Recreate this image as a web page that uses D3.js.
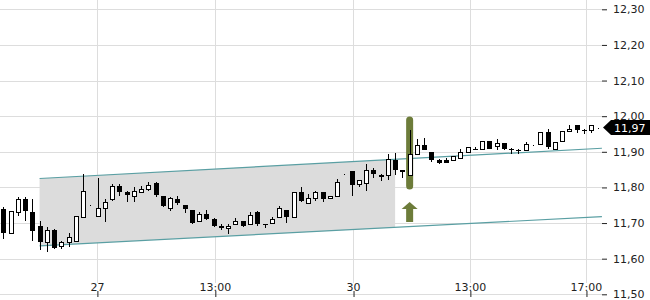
<!DOCTYPE html>
<html>
  <head>
    <meta charset="utf-8" />
    <title>Candles</title>
    <script src="https://d3js.org/d3.v7.min.js"></script>
    <style>
      body { margin: 0; background: #fff; }
      text { font-family: "DejaVu Sans", sans-serif; font-size: 11px; }
    </style>
  </head>
  <body>
    <svg width="650" height="300" id="chart"></svg>

    <script>
      // 15 minute candles, one per slot
      var opens  = [11.740, 11.672, 11.732, 11.767, 11.730, 11.692, 11.648, 11.680, 11.635, 11.646,
                    11.650, 11.716, 11.750, 11.719, 11.741, 11.767, 11.805, 11.788, 11.775, 11.786,
                    11.795, 11.812, 11.775, 11.741, 11.767, 11.750, 11.736, 11.705, 11.725, 11.711,
                    11.693, 11.685, 11.697, 11.706, 11.696, 11.732, 11.698, 11.700, 11.717, 11.736,
                    11.717, 11.788, 11.756, 11.769, 11.786, 11.769, 11.775, 11.837, 11.845, 11.811,
                    11.813, 11.849, 11.835, 11.835, 11.876, 11.850, 11.836, 11.894, 11.920, 11.900,
                    11.877, 11.877, 11.876, 11.883, 11.899, 11.909, 11.907, 11.931, 11.916, 11.926,
                    11.907, 11.905, 11.905, 11.918, 11.923, 11.956, 11.909, 11.931, 11.957, 11.974,
                    11.961, 11.962, 11.968];
      var highs  = [11.745, 11.735, 11.772, 11.772, 11.767, 11.707, 11.688, 11.683, 11.650, 11.672,
                    11.720, 11.837, 11.750, 11.826, 11.767, 11.811, 11.811, 11.790, 11.800, 11.805,
                    11.814, 11.814, 11.777, 11.774, 11.775, 11.750, 11.736, 11.732, 11.736, 11.713,
                    11.696, 11.697, 11.714, 11.706, 11.731, 11.735, 11.698, 11.718, 11.749, 11.736,
                    11.788, 11.800, 11.781, 11.791, 11.788, 11.775, 11.825, 11.837, 11.845, 11.820,
                    11.867, 11.855, 11.839, 11.894, 11.897, 11.850, 11.960, 11.936, 11.939, 11.900,
                    11.881, 11.883, 11.888, 11.908, 11.914, 11.914, 11.931, 11.931, 11.937, 11.926,
                    11.911, 11.908, 11.928, 11.918, 11.956, 11.963, 11.928, 11.958, 11.976, 11.976,
                    11.965, 11.974, 11.968];
      var lows   = [11.655, 11.672, 11.721, 11.707, 11.650, 11.625, 11.618, 11.627, 11.627, 11.632,
                    11.648, 11.716, 11.750, 11.719, 11.702, 11.763, 11.777, 11.758, 11.758, 11.783,
                    11.789, 11.772, 11.746, 11.733, 11.751, 11.727, 11.697, 11.702, 11.709, 11.690,
                    11.681, 11.669, 11.694, 11.688, 11.694, 11.693, 11.686, 11.700, 11.717, 11.700,
                    11.717, 11.758, 11.753, 11.761, 11.758, 11.769, 11.772, 11.837, 11.777, 11.802,
                    11.790, 11.827, 11.818, 11.820, 11.836, 11.827, 11.836, 11.894, 11.905, 11.871,
                    11.867, 11.869, 11.875, 11.883, 11.899, 11.905, 11.907, 11.907, 11.905, 11.905,
                    11.895, 11.895, 11.905, 11.918, 11.923, 11.909, 11.909, 11.931, 11.957, 11.954,
                    11.951, 11.953, 11.968];
      var closes = [11.672, 11.735, 11.767, 11.735, 11.678, 11.648, 11.680, 11.629, 11.646, 11.660,
                    11.719, 11.789, 11.750, 11.741, 11.760, 11.805, 11.786, 11.780, 11.789, 11.795,
                    11.807, 11.779, 11.749, 11.769, 11.755, 11.739, 11.699, 11.725, 11.711, 11.691,
                    11.685, 11.691, 11.706, 11.693, 11.723, 11.698, 11.697, 11.711, 11.742, 11.717,
                    11.786, 11.761, 11.769, 11.786, 11.767, 11.775, 11.814, 11.837, 11.806, 11.820,
                    11.849, 11.838, 11.829, 11.880, 11.849, 11.844, 11.894, 11.920, 11.905, 11.876,
                    11.869, 11.869, 11.888, 11.900, 11.913, 11.905, 11.931, 11.907, 11.926, 11.907,
                    11.905, 11.904, 11.923, 11.918, 11.956, 11.914, 11.928, 11.958, 11.963, 11.962,
                    11.960, 11.974, 11.968];

      // price axis
      var priceTicks = [11.5, 11.6, 11.7, 11.8, 11.9, 12.0, 12.1, 12.2, 12.3];
      // time axis, positions in candle slots
      var timeTicks = [12.9, 29.15, 48.2, 64.3, 80.3];
      var timeLabels = ["27", "13:00", "30", "13:00", "17:00"];

      // trend channel: [slot, upper, lower]
      var channelStart = [5, 11.825, 11.636];
      var channelEnd = [82.5, 11.910, 11.718];
      var channelShadeEnd = 54;

      var markedSlot = 56;
      var lastPrice = 11.968;

      var svg = d3.select("#chart");

      var x = d3.scaleLinear().domain([0, opens.length - 1]).range([3.3, 598.3]);
      var y = d3.scaleLinear().domain([11.5, 12.3]).range([294.3, 9.3]);

      //grid
      svg.append("g").selectAll("line").data(priceTicks).enter().append("line")
        .attr("x1", 0).attr("x2", 602)
        .attr("y1", function(d){ return Math.round(y(d)) + 0.5; })
        .attr("y2", function(d){ return Math.round(y(d)) + 0.5; })
        .attr("stroke", "#dddddd");

      svg.append("g").selectAll("line").data(timeTicks).enter().append("line")
        .attr("x1", function(d){ return Math.round(x(d)) + 0.5; })
        .attr("x2", function(d){ return Math.round(x(d)) + 0.5; })
        .attr("y1", 0).attr("y2", 283)
        .attr("stroke", "#dddddd");

      //channel
      function lineAt(pt, k) { return pt[k]; }
      var shadeFrac = (channelShadeEnd - channelStart[0]) / (channelEnd[0] - channelStart[0]);
      var upShade = channelStart[1] + (channelEnd[1] - channelStart[1]) * shadeFrac;
      var loShade = channelStart[2] + (channelEnd[2] - channelStart[2]) * shadeFrac;

      svg.append("polygon")
        .attr("points", [
          [x(channelStart[0]), y(channelStart[1])],
          [x(channelShadeEnd), y(upShade)],
          [x(channelShadeEnd), y(loShade)],
          [x(channelStart[0]), y(channelStart[2])]
        ].join(" "))
        .attr("fill", "#dcdcdc");

      [1, 2].forEach(function(k){
        svg.append("line")
          .attr("x1", x(channelStart[0])).attr("y1", y(lineAt(channelStart, k)))
          .attr("x2", x(channelEnd[0])).attr("y2", y(lineAt(channelEnd, k)))
          .attr("stroke", "#5a9fa3")
          .attr("stroke-width", 1.2);
      });

      //highlighted candle + arrow
      var mx = x(markedSlot);
      var hTop = y(highs[markedSlot]) - 14;
      var hBot = y(lows[markedSlot]) + 15;
      svg.append("rect")
        .attr("x", mx - 3.5).attr("width", 7)
        .attr("y", hTop).attr("height", hBot - hTop)
        .attr("rx", 3.5)
        .attr("fill", "#6d7c3a");

      var aTop = hBot + 12.5;
      svg.append("polygon")
        .attr("points", [
          [mx, aTop], [mx + 8, aTop + 7], [mx + 3.5, aTop + 7], [mx + 3.5, aTop + 20],
          [mx - 3.5, aTop + 20], [mx - 3.5, aTop + 7], [mx - 8, aTop + 7]
        ].join(" "))
        .attr("fill", "#6d7c3a");

      //candles
      var candles = d3.range(opens.length).map(function(i){
        return { i: i, o: opens[i], h: highs[i], l: lows[i], c: closes[i] };
      });

      var g = svg.append("g").attr("shape-rendering", "crispEdges");

      var c = g.selectAll("g.candle").data(candles).enter().append("g").attr("class", "candle");

      c.append("line")
        .attr("x1", function(d){ return Math.round(x(d.i)) + 0.5; })
        .attr("x2", function(d){ return Math.round(x(d.i)) + 0.5; })
        .attr("y1", function(d){ return y(d.h); })
        .attr("y2", function(d){ return Math.max(y(d.l), y(d.h) + 1); })
        .attr("stroke", "#000");

      c.append("rect")
        .attr("x", function(d){ return Math.round(x(d.i)) - 2; })
        .attr("width", function(d){ return d.c < d.o ? 5 : 4; })
        .attr("y", function(d){ return Math.round(y(Math.max(d.o, d.c))); })
        .attr("height", function(d){
          var hgt = Math.round(y(Math.min(d.o, d.c))) - Math.round(y(Math.max(d.o, d.c)));
          return Math.max(hgt, d.c < d.o ? 1 : 0);
        })
        .attr("transform", function(d){ return d.c < d.o ? null : "translate(0.5,0.5)"; })
        .attr("fill", function(d){ return d.c < d.o ? "#000" : "#fff"; })
        .attr("stroke", function(d){ return d.c < d.o ? "none" : "#000"; });

      //y axis
      var yAxis = d3.axisRight(y)
        .tickValues(priceTicks)
        .tickSize(5)
        .tickPadding(6)
        .tickFormat(function(d){ return d3.format(".2f")(d).replace(".", ","); });

      var ya = svg.append("g").attr("transform", "translate(602,0)").call(yAxis);
      ya.select(".domain").remove();
      ya.selectAll("line").attr("stroke", "#222");
      ya.selectAll("text").attr("fill", "#222").style("font-size", "11px").style("font-family", "DejaVu Sans");

      //x axis (labels sit above the ticks)
      var xAxis = d3.axisTop(x)
        .tickValues(timeTicks)
        .tickSize(6)
        .tickPadding(0)
        .tickFormat(function(d, i){ return timeLabels[i]; });

      var xa = svg.append("g").attr("transform", "translate(0,297)").call(xAxis);
      xa.select(".domain").remove();
      xa.selectAll("line").attr("stroke", "#222")
        .attr("transform", function(){ return "translate(0.5,0)"; });
      xa.selectAll("text").attr("fill", "#222").style("font-size", "11px").style("font-family", "DejaVu Sans");

      //last price flag
      var py = y(lastPrice);
      svg.append("polygon")
        .attr("points", [
          [603, py], [611, py - 7.5], [650, py - 7.5], [650, py + 7.5], [611, py + 7.5]
        ].join(" "))
        .attr("fill", "#000");
      svg.append("text")
        .attr("x", 614).attr("y", py + 4)
        .attr("fill", "#fff")
        .text(d3.format(".2f")(lastPrice).replace(".", ","));
    </script>
  </body>
</html>
